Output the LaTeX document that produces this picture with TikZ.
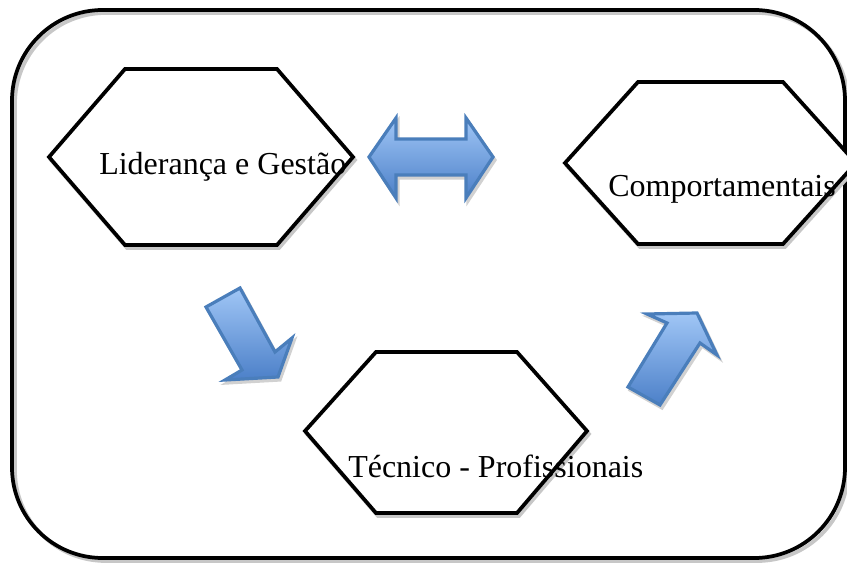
\documentclass[tikz,border=0pt]{standalone}
\usepackage{fontspec}
\setmainfont{Liberation Serif}
\usetikzlibrary{positioning}
\definecolor{arrowlight}{RGB}{160,198,246}
\definecolor{arrowdark}{RGB}{76,128,200}
\definecolor{arrowline}{RGB}{74,126,187}
\begin{document}
\begin{tikzpicture}[
    x=0.75pt, y=-0.75pt,
    frame/.style={draw=black, line width=2.8pt, rounded corners=68pt},
    hexa/.style={draw=black, line width=2.8pt, line join=miter, fill=white},
    shade/.style={draw=black!22, line width=2.8pt},
    blockarrow/.style={draw=arrowline, line width=2.4pt, line join=miter, top color=arrowlight, bottom color=arrowdark},
    ashadow/.style={draw=black!18, line width=2.4pt, fill=black!18},
    lbl/.style={font=\fontsize{24}{28}\selectfont, anchor=base west, inner sep=0pt},
]
\useasboundingbox (0,0) rectangle (847,563);
% ----- outer frame
\draw[shade, rounded corners=68pt] (15,13) rectangle (848,561);
\draw[frame] (12,10) rectangle (845,558);
% ----- hexagons
\draw[shade] ([shift={(2,3)}]49,157) -- ([shift={(2,3)}]125,69) -- ([shift={(2,3)}]277,69) -- ([shift={(2,3)}]353,157) -- ([shift={(2,3)}]277,245) -- ([shift={(2,3)}]125,245) -- cycle;
\draw[hexa] (49,157) -- (125,69) -- (277,69) -- (353,157) -- (277,245) -- (125,245) -- cycle;
\draw[shade] ([shift={(2,3)}]565,163) -- ([shift={(2,3)}]638,82) -- ([shift={(2,3)}]783,82) -- ([shift={(2,3)}]856,163) -- ([shift={(2,3)}]783,244) -- ([shift={(2,3)}]638,244) -- cycle;
\draw[hexa] (565,163) -- (638,82) -- (783,82) -- (856,163) -- (783,244) -- (638,244) -- cycle;
\draw[shade] ([shift={(2,3)}]305,431) -- ([shift={(2,3)}]376,352) -- ([shift={(2,3)}]517,352) -- ([shift={(2,3)}]587,431) -- ([shift={(2,3)}]517,513) -- ([shift={(2,3)}]376,513) -- cycle;
\draw[hexa] (305,431) -- (376,352) -- (517,352) -- (587,431) -- (517,513) -- (376,513) -- cycle;
% ----- labels
\node[lbl] (lideranca) at (99,175) {Liderança e Gestão};
\node[lbl] (comport) at (608,197) {Comportamentais};
\node[lbl] (tecnico) at (348,477) {Técnico - Profissionais};
% ----- block arrows
\draw[ashadow] (371,160) -- (398,121) -- (398,142) -- (468,142) -- (468,121) -- (495,160) -- (468,201) -- (468,178) -- (398,178) -- (398,201) -- cycle;
\draw[blockarrow] (369,157) -- (396,118) -- (396,139) -- (466,139) -- (466,118) -- (493,157) -- (466,198) -- (466,175) -- (396,175) -- (396,198) -- cycle;
\draw[ashadow] (208,310) -- (242,291) -- (277,355) -- (294,341) -- (280,380) -- (227,383) -- (244,373) -- cycle;
\draw[blockarrow] (206,307) -- (240,288) -- (275,352) -- (292,338) -- (278,377) -- (225,380) -- (242,370) -- cycle;
\draw[ashadow] (630,390) -- (662,408) -- (702,346) -- (719,358) -- (699,316) -- (649,317) -- (669,326) -- cycle;
\draw[blockarrow] (628,387) -- (660,405) -- (700,343) -- (717,355) -- (697,313) -- (647,314) -- (667,323) -- cycle;
\end{tikzpicture}
\end{document}
